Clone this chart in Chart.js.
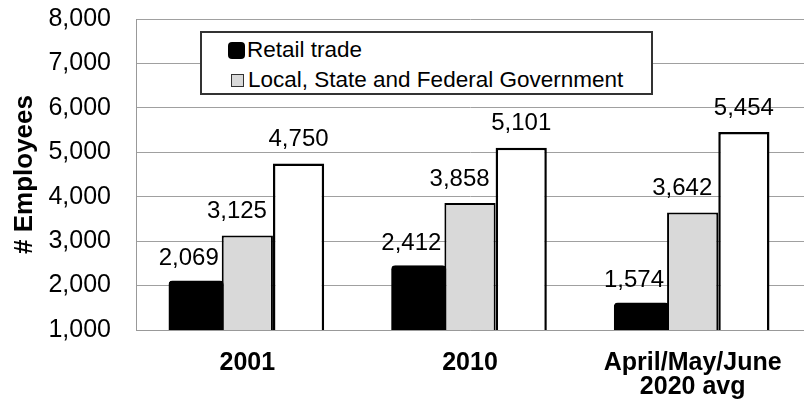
<!DOCTYPE html>
<html>
<head>
<meta charset="utf-8">
<script src="https://cdn.jsdelivr.net/npm/chart.js@4/dist/chart.umd.min.js"></script>
<style>
  html, body { margin: 0; padding: 0; background: #fff; }
  #wrap { position: relative; width: 804px; height: 407px; }
  #legend {
    position: absolute; left: 200px; top: 31px; width: 453px; height: 64px;
    box-sizing: border-box; border: 2px solid #333; background: #fff;
    font-family: "Liberation Sans", Arial, sans-serif; font-size: 22.5px; color: #000;
  }
  .row { position: absolute; left: 26px; height: 26px; display: flex; align-items: center; white-space: nowrap; }
  .mk { display: inline-block; box-sizing: border-box; margin-right: 2px; }
</style>
</head>
<body>
<div id="wrap">
  <canvas id="c" width="804" height="407"></canvas>
  <div id="legend"></div>
</div>
<script>
const categories = ['2001', '2010', ['April/May/June', '2020 avg']];
const seriesNames = ['Retail trade', 'Local, State and Federal Government', ''];
const retailTrade = [2069, 2412, 1574];
const government = [3125, 3858, 3642];
const thirdSeries = [4750, 5101, 5454];
const yTicks = [1000, 2000, 3000, 4000, 5000, 6000, 7000, 8000];

const FONT = '"Liberation Sans", Arial, sans-serif';
const fmt = v => v.toLocaleString('en-US');

const labelPlugin = {
  id: 'valueLabels',
  afterDatasetsDraw(chart) {
    const ctx = chart.ctx;
    ctx.save();
    ctx.font = '24px ' + FONT;
    ctx.fillStyle = '#000';
    ctx.textBaseline = 'middle';
    chart.data.datasets.forEach((ds, di) => {
      const meta = chart.getDatasetMeta(di);
      meta.data.forEach((bar, i) => {
        const v = ds.data[i];
        const props = bar.getProps(['x', 'y', 'width'], true);
        const y = props.y - 24;
        if (di === 2) {
          ctx.textAlign = 'center';
          ctx.fillText(fmt(v), props.x, y);
        } else {
          ctx.textAlign = 'right';
          const off = di === 0 ? 3 : 6;
          ctx.fillText(fmt(v), props.x + props.width / 2 - off, y);
        }
      });
    });
    ctx.restore();
  }
};

const chart = new Chart(document.getElementById('c'), {
  type: 'bar',
  data: {
    labels: categories,
    datasets: [
      { label: seriesNames[0], data: retailTrade, backgroundColor: '#000', borderColor: '#000',
        borderWidth: 2, borderRadius: 4, inflateAmount: 2, borderSkipped: false },
      { label: seriesNames[1], data: government, backgroundColor: '#d9d9d9', borderColor: '#000',
        borderWidth: 2, borderSkipped: 'start', inflateAmount: 0 },
      { label: seriesNames[2], data: thirdSeries, backgroundColor: '#fff', borderColor: '#000',
        borderWidth: 2.5, borderSkipped: 'start', inflateAmount: 0 }
    ]
  },
  options: {
    responsive: false,
    animation: false,
    devicePixelRatio: 1,
    layout: { padding: { top: 19, left: 0, right: 0, bottom: 0 } },
    plugins: { legend: { display: false }, tooltip: { enabled: false } },
    datasets: { bar: { categoryPercentage: 0.69, barPercentage: 1.0 } },
    scales: {
      x: {
        grid: { display: false, drawTicks: false },
        border: { display: true, color: '#999', width: 1 },
        ticks: { color: '#000', padding: 21, maxRotation: 0, autoSkip: false,
                 font: { family: FONT, size: 25, weight: 'bold', lineHeight: 0.97 } },
        afterFit(s) { s.height = 77; s.paddingLeft = 0; s.paddingRight = 0; }
      },
      y: {
        min: 1000, max: 8000,
        afterBuildTicks(s) { s.ticks = yTicks.map(v => ({ value: v })); },
        grid: { color: '#a0a0a0', lineWidth: 1, drawTicks: false },
        border: { display: true, color: '#999', width: 1 },
        ticks: { color: '#000', padding: 25, callback: v => fmt(v),
                 font: { family: FONT, size: 25 } },
        title: { display: true, text: '# Employees', color: '#000',
                 padding: { top: 9, bottom: 0 },
                 font: { family: FONT, size: 26, weight: 'bold', lineHeight: 1.2 } },
        afterFit(s) { s.width = 136; s.paddingTop = 0; s.paddingBottom = 0; }
      }
    }
  },
  plugins: [labelPlugin]
});

// legend built from series names (only named series are listed)
const legend = document.getElementById('legend');
const markers = [
  'width:17px;height:17px;background:#000;border-radius:4px;',
  'width:13px;height:13px;background:#d9d9d9;border:1.5px solid #333;margin-left:3px;margin-right:4px;'
];
const rowTops = [4, 34];
seriesNames.forEach((name, i) => {
  if (!name) return;
  const row = document.createElement('div');
  row.className = 'row';
  row.style.top = rowTops[i] + 'px';
  const mk = document.createElement('span');
  mk.className = 'mk';
  mk.style.cssText = markers[i];
  const tx = document.createElement('span');
  tx.textContent = name;
  row.appendChild(mk); row.appendChild(tx);
  legend.appendChild(row);
});
</script>
</body>
</html>
